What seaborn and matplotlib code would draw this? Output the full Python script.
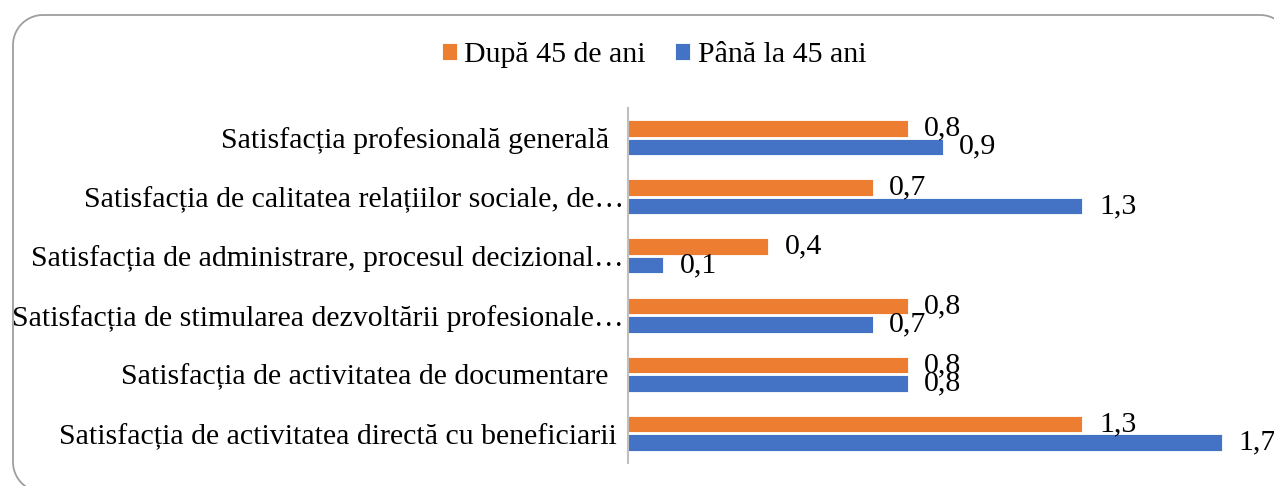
import matplotlib
matplotlib.use("Agg")
import matplotlib.pyplot as plt
import numpy as np
import pandas as pd
import seaborn as sns

# Satisfaction scores by age group
categorii = [
    "Satisfacția profesională generală  ",
    "Satisfacția de calitatea relațiilor sociale, de…",
    "Satisfacția de administrare, procesul decizional…",
    "Satisfacția de stimularea dezvoltării profesionale…",
    "Satisfacția de activitatea de documentare  ",
    "Satisfacția de activitatea directă cu beneficiarii ",
]
grupe = ["După 45 de ani", "Până la 45 ani"]
dupa_45 = [0.8, 0.7, 0.4, 0.8, 0.8, 1.3]
pana_la_45 = [0.9, 1.3, 0.1, 0.7, 0.8, 1.7]
culori = ["#ED7D31", "#4472C4"]

df = pd.DataFrame({
    "categorie": categorii * 2,
    "grupa": [grupe[0]] * len(categorii) + [grupe[1]] * len(categorii),
    "valoare": dupa_45 + pana_la_45,
})

sns.set_theme(style="white")
plt.rcParams["font.family"] = ["Liberation Serif", "DejaVu Serif"]
plt.rcParams["text.color"] = "black"
plt.rcParams["ytick.color"] = "black"
plt.rcParams["ytick.labelcolor"] = "black"
FS = 21.5

W, H = 1274, 486
fig = plt.figure(figsize=(W / 100, H / 100), dpi=100)
fig.patch.set_facecolor("white")


def rounded_rect(x0, y0, x1, y1, r, n=24):
    """Outline of a rounded rectangle (pixel units, y pointing up)."""
    pts = []
    corners = [
        (x1 - r, y1 - r, 0.0),          # top-right
        (x0 + r, y1 - r, np.pi / 2),    # top-left
        (x0 + r, y0 + r, np.pi),        # bottom-left
        (x1 - r, y0 + r, 1.5 * np.pi),  # bottom-right
    ]
    for cx, cy, a0 in corners:
        t = np.linspace(a0, a0 + np.pi / 2, n)
        pts.append(np.column_stack([cx + r * np.cos(t), cy + r * np.sin(t)]))
    pts = np.vstack(pts)
    return np.vstack([pts, pts[:1]])


# Rounded outer frame, drawn on a full-figure overlay in pixel units
bg = fig.add_axes([0, 0, 1, 1], zorder=0)
bg.set_xlim(0, W)
bg.set_ylim(0, H)
bg.axis("off")
outline = rounded_rect(13, -6, 1290, H - 15, 30)
bg.plot(outline[:, 0], outline[:, 1], color="#9E9E9E", lw=1.3,
        solid_joinstyle="round", clip_on=True)

ax = fig.add_axes([628 / W, 23 / H, 629 / W, 355 / H], zorder=1)
ax.patch.set_alpha(0)

sns.barplot(
    data=df, y="categorie", x="valoare", hue="grupa",
    order=categorii, hue_order=grupe, palette=culori, orient="h",
    width=0.62, gap=0.1, saturation=1, edgecolor="white", linewidth=0.6,
    errorbar=None, ax=ax,
)

ax.set_xlim(0, 1.8)
ax.set_ylim(5.5, -0.5)
ax.set_xlabel("")
ax.set_ylabel("")
ax.set_xticks([])
ax.set_yticks(range(len(categorii)))
ax.set_yticklabels(categorii, fontsize=FS, color="black")
ax.tick_params(axis="y", length=0, pad=3)

for side in ("top", "right", "bottom"):
    ax.spines[side].set_visible(False)
ax.spines["left"].set_color("#BFBFBF")
ax.spines["left"].set_linewidth(1.5)

for cont, vals in zip(ax.containers, [dupa_45, pana_la_45]):
    ax.bar_label(
        cont, labels=[f"{v:.1f}".replace(".", ",") for v in vals],
        padding=12, fontsize=FS, color="black", clip_on=False,
    )

handles, labels = ax.get_legend_handles_labels()
if ax.get_legend() is not None:
    ax.get_legend().remove()
leg = fig.legend(
    handles, labels, loc="center", bbox_to_anchor=(654 / W, 1 - 55 / H),
    ncol=2, frameon=False, fontsize=FS, handlelength=0.5, handleheight=0.5,
    handletextpad=0.25, columnspacing=1.0,
)
for t in leg.get_texts():
    t.set_color("black")

fig.savefig("out.png", dpi=100)
